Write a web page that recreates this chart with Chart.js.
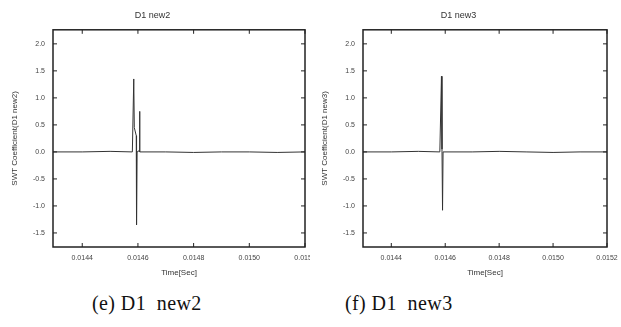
<!DOCTYPE html>
<html>
<head>
<meta charset="utf-8">
<script src="https://cdn.jsdelivr.net/npm/chart.js@4"></script>
<style>
  body { margin: 0; background: #fff; width: 621px; height: 327px; position: relative; overflow: hidden; }
  .box { position: absolute; top: 0; }
  .cap { position: absolute; top: 292px; font-family: "Liberation Serif", "DejaVu Serif", serif; font-size: 20px; letter-spacing: 0.4px; color: #111; white-space: pre; }
</style>
</head>
<body>
<div class="box" style="left:0;width:310px;height:285px"><canvas id="chartNew2"></canvas></div>
<div class="box" style="left:310px;width:311px;height:285px"><canvas id="chartNew3"></canvas></div>
<div class="cap" style="left:92px">(e) D1  new2</div>
<div class="cap" style="left:345px">(f) D1  new3</div>
<script>
// ---------------- DATA ----------------
const xTicks = [0.0144, 0.0146, 0.0148, 0.0150, 0.0152];
const yTicks = [-1.5, -1.0, -0.5, 0.0, 0.5, 1.0, 1.5, 2.0];
const xMin = 0.014295, xMax = 0.0152;
const yMin = -1.76, yMax = 2.26;

// D1 new2 (time, coefficient)
const timeNew2 = [0.014295, 0.01440, 0.01450, 0.01458, 0.014585, 0.014587, 0.014594, 0.014595, 0.014597, 0.014604, 0.014606, 0.014607, 0.01470, 0.01480, 0.01490, 0.01500, 0.01510, 0.0152];
const coefNew2 = [0.00, 0.00, 0.01, 0.00, 1.35, 0.45, 0.30, -1.35, 0.00, 0.02, 0.75, 0.00, 0.00, -0.01, 0.00, 0.00, -0.01, 0.00];

// D1 new3
const timeNew3 = [0.014293, 0.01440, 0.01450, 0.01458, 0.014586, 0.014588, 0.014590, 0.014592, 0.01470, 0.01480, 0.01490, 0.01500, 0.01510, 0.0152];
const coefNew3 = [0.00, 0.00, 0.01, 0.00, 1.40, 0.05, -1.08, 0.00, 0.00, 0.01, 0.00, -0.01, 0.00, 0.00];

const toPoints = (xs, ys) => xs.map((x, i) => ({ x: x, y: ys[i] }));

// -------------------- FRAME + INWARD TICKS --------------------
const framePlugin = {
    id: "frame",
    afterDraw(chart) {
        const ctx = chart.ctx;
        const a = chart.chartArea;
        const xs = chart.scales.x, ys = chart.scales.y;
        ctx.save();
        ctx.strokeStyle = "#222";
        ctx.lineWidth = 1.5;
        ctx.strokeRect(a.left, a.top, a.right - a.left, a.bottom - a.top);
        ctx.lineWidth = 1;
        ctx.beginPath();
        xs.ticks.forEach(t => {
            const px = xs.getPixelForValue(t.value);
            ctx.moveTo(px, a.bottom); ctx.lineTo(px, a.bottom - 4);
            ctx.moveTo(px, a.top); ctx.lineTo(px, a.top + 4);
        });
        ys.ticks.forEach(t => {
            const py = ys.getPixelForValue(t.value);
            ctx.moveTo(a.left, py); ctx.lineTo(a.left + 4, py);
            ctx.moveTo(a.right, py); ctx.lineTo(a.right - 4, py);
        });
        ctx.stroke();
        ctx.restore();
    }
};

const smallFont = { family: "Liberation Sans, Arial", size: 7 };
const labelFont = { family: "Liberation Sans, Arial", size: 8 };

function makeChart(id, title, xs, ys, padRight) {
    return new Chart(id, {
        type: "scatter",
        data: {
            datasets: [{
                data: toPoints(xs, ys),
                showLine: true,
                borderColor: "#333",
                borderWidth: 1,
                pointRadius: 0,
                tension: 0
            }]
        },
        options: {
            responsive: true,
            maintainAspectRatio: false,
            animation: false,
            layout: { padding: { left: 0, right: padRight, top: 0, bottom: 0 } },
            plugins: {
                legend: { display: false },
                tooltip: { enabled: false },
                title: {
                    display: true,
                    text: title,
                    color: "#333",
                    font: { family: "Liberation Sans, Arial", size: 9, weight: "normal" },
                    padding: { top: 10, bottom: 9 }
                }
            },
            scales: {
                x: {
                    type: "linear",
                    min: xMin,
                    max: xMax,
                    afterBuildTicks: s => { s.ticks = xTicks.map(v => ({ value: v })); },
                    afterFit: s => { s.height = 38; s.paddingLeft = 0; s.paddingRight = 0; },
                    grid: { display: false, drawTicks: false },
                    border: { display: false },
                    ticks: {
                        color: "#444",
                        font: smallFont,
                        padding: 7,
                        maxRotation: 0,
                        callback: v => v.toFixed(4)
                    },
                    title: {
                        display: true,
                        text: "Time[Sec]",
                        color: "#333",
                        font: labelFont,
                        padding: { top: 0, bottom: 7 }
                    }
                },
                y: {
                    min: yMin,
                    max: yMax,
                    afterBuildTicks: s => { s.ticks = yTicks.map(v => ({ value: v })); },
                    afterFit: s => { s.width = 53; s.paddingTop = 0; s.paddingBottom = 0; },
                    grid: { display: false, drawTicks: false },
                    border: { display: false },
                    ticks: {
                        color: "#444",
                        font: smallFont,
                        padding: 8,
                        callback: v => v.toFixed(1)
                    },
                    title: {
                        display: true,
                        text: "SWT Coefficient(" + title + ")",
                        color: "#333",
                        font: labelFont,
                        padding: { top: 10, bottom: 0 }
                    }
                }
            }
        },
        plugins: [framePlugin]
    });
}

makeChart("chartNew2", "D1 new2", timeNew2, coefNew2, 5);
makeChart("chartNew3", "D1 new3", timeNew3, coefNew3, 14);
</script>
</body>
</html>
